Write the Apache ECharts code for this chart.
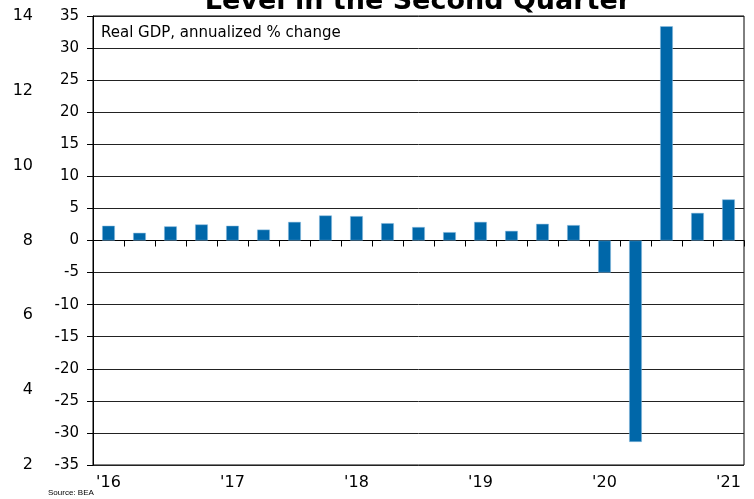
<!DOCTYPE html>
<html>
<head>
<meta charset="utf-8">
<script src="https://cdn.jsdelivr.net/npm/echarts@6/dist/echarts.min.js"></script>
<style>
  html, body { margin: 0; padding: 0; background: #fff; }
  #chart { width: 754px; height: 499px; }
</style>
</head>
<body>
<div id="chart"></div>
<script>
// Quarters shown on the chart (2016Q1 .. 2021Q1)
var quarters = ['2016Q1', '2016Q2', '2016Q3', '2016Q4',
                '2017Q1', '2017Q2', '2017Q3', '2017Q4',
                '2018Q1', '2018Q2', '2018Q3', '2018Q4',
                '2019Q1', '2019Q2', '2019Q3', '2019Q4',
                '2020Q1', '2020Q2', '2020Q3', '2020Q4',
                '2021Q1'];
// Real GDP, annualized % change
var gdpGrowth = [2.3, 1.2, 2.2, 2.5, 2.3, 1.7, 2.9, 3.9, 3.8, 2.7, 2.1, 1.3,
                 2.9, 1.5, 2.6, 2.4, -5.0, -31.4, 33.4, 4.3, 6.4];
// Year labels shown under the first quarter of each year
var yearLabels = { '2016': "'16", '2017': "'17", '2018': "'18",
                   '2019': "'19", '2020': "'20", '2021': "'21" };

var font = 'DejaVu Sans, Verdana, sans-serif';

var chart = echarts.init(document.getElementById('chart'));

var option = {
    animation: false,
    title: {
        text: 'Level in the Second Quarter',
        left: 413,
        textAlign: 'center',
        top: -17,
        textStyle: { fontFamily: font, fontSize: 27, fontWeight: 'bold', color: '#000' }
    },
    graphic: [
        {
            type: 'text', left: 101, top: 26,
            style: { text: 'Real GDP, annualized % change', font: '15px ' + font, fill: '#000' }
        },
        {
            type: 'text', left: 48, top: 489,
            style: { text: 'Source: BEA', font: '8px Liberation Sans, Arial, sans-serif', fill: '#000' }
        }
    ],
    grid: {
        left: 93, right: 10, top: 16, bottom: 34,
        show: true, borderColor: '#000', borderWidth: 1, backgroundColor: 'transparent'
    },
    xAxis: [
        {
            // zero line with quarter ticks
            type: 'category',
            data: quarters,
            boundaryGap: true,
            axisLine: { onZero: true, lineStyle: { color: '#000', width: 1 } },
            axisTick: { show: true, interval: 0, length: 6, lineStyle: { color: '#000' } },
            axisLabel: { show: false },
            splitLine: { show: false }
        },
        {
            // year labels along the bottom
            type: 'category',
            data: quarters,
            position: 'bottom',
            boundaryGap: true,
            axisLine: { show: false },
            axisTick: { show: false },
            axisLabel: {
                interval: 0,
                margin: 10,
                fontFamily: font, fontSize: 16, color: '#000',
                formatter: function (v) {
                    return v.slice(4) === 'Q1' ? yearLabels[v.slice(0, 4)] : '';
                }
            }
        }
    ],
    yAxis: [
        {
            type: 'value',
            min: -35, max: 35, interval: 5,
            axisLine: { show: true, lineStyle: { color: '#000' } },
            axisTick: { show: true, length: 6, lineStyle: { color: '#000' } },
            axisLabel: { margin: 14, fontFamily: font, fontSize: 15, color: '#000' },
            splitLine: { show: true, lineStyle: { color: '#222', width: 1 } }
        },
        {
            type: 'value',
            position: 'left',
            offset: 52,
            min: 2, max: 14, interval: 2,
            axisLine: { show: false },
            axisTick: { show: false },
            axisLabel: { margin: 8, fontFamily: font, fontSize: 16, color: '#000' },
            splitLine: { show: false }
        }
    ],
    series: [
        {
            name: 'Real GDP',
            type: 'bar',
            xAxisIndex: 0,
            yAxisIndex: 0,
            data: gdpGrowth,
            barWidth: '41%',
            itemStyle: { color: '#0067a9', borderColor: '#8fbfe0', borderWidth: 0.5 }
        }
    ]
};

chart.setOption(option);
</script>
</body>
</html>
